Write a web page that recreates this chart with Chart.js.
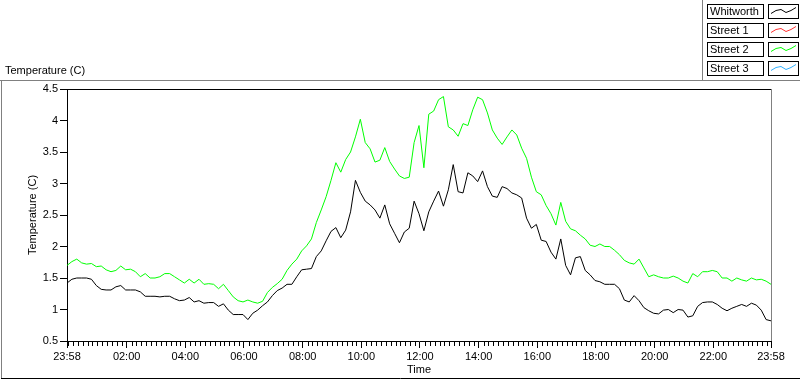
<!DOCTYPE html>
<html>
<head>
<meta charset="utf-8">
<script src="https://cdn.jsdelivr.net/npm/chart.js@4"></script>
<style>
    html, body { margin: 0; padding: 0; background: #fff; }
    #wrap { width: 800px; height: 380px; position: relative; }
</style>
</head>
<body>
<div id="wrap"><canvas id="tempChart" width="800" height="380"></canvas></div>
<script>
// Series names (legend order)
const seriesNames = ['Whitworth', 'Street 1', 'Street 2', 'Street 3'];
const seriesColors = ['#000000', '#ff3030', '#00ff00', '#30b0ff'];

// Readings every 10 minutes, starting 23:58
const stepMinutes = 10;
const whitworth = [
    1.42, 1.48, 1.50, 1.50, 1.50, 1.48, 1.38, 1.32, 1.31, 1.31,
    1.36, 1.38, 1.31, 1.31, 1.31, 1.28, 1.21, 1.21, 1.21, 1.20,
    1.21, 1.21, 1.17, 1.14, 1.15, 1.19, 1.12, 1.14, 1.10, 1.11,
    1.11, 1.05, 1.09, 0.99, 0.92, 0.92, 0.92, 0.84, 0.94, 0.99,
    1.06, 1.12, 1.22, 1.30, 1.34, 1.40, 1.40, 1.52, 1.63, 1.64,
    1.65, 1.84, 1.93, 2.09, 2.24, 2.30, 2.14, 2.26, 2.55, 3.05,
    2.86, 2.72, 2.66, 2.58, 2.45, 2.66, 2.36, 2.21, 2.06, 2.23,
    2.29, 2.72, 2.52, 2.25, 2.55, 2.72, 2.88, 2.64, 2.90, 3.30,
    2.87, 2.85, 3.17, 3.12, 3.03, 3.20, 2.95, 2.80, 2.78, 2.95,
    2.92, 2.85, 2.82, 2.77, 2.45, 2.29, 2.35, 2.10, 2.08, 1.91,
    1.80, 2.12, 1.70, 1.55, 1.82, 1.84, 1.62, 1.55, 1.46, 1.44,
    1.40, 1.40, 1.40, 1.33, 1.15, 1.12, 1.22, 1.14, 1.03, 0.98,
    0.94, 0.93, 0.99, 1.00, 0.95, 1.00, 0.99, 0.88, 0.90, 1.05,
    1.11, 1.12, 1.12, 1.08, 1.02, 0.98, 1.02, 1.05, 1.08, 1.05,
    1.10, 1.07, 0.99, 0.84, 0.82
];
const street1 = [];
const street2 = [
    1.70, 1.76, 1.80, 1.74, 1.72, 1.73, 1.68, 1.69, 1.63, 1.60,
    1.62, 1.69, 1.63, 1.64, 1.60, 1.52, 1.57, 1.50, 1.50, 1.52,
    1.57, 1.57, 1.52, 1.47, 1.42, 1.48, 1.42, 1.48, 1.40, 1.41,
    1.40, 1.33, 1.40, 1.30, 1.20, 1.14, 1.12, 1.15, 1.12, 1.10,
    1.13, 1.27, 1.35, 1.41, 1.48, 1.62, 1.72, 1.80, 1.93, 2.01,
    2.12, 2.38, 2.58, 2.79, 3.05, 3.33, 3.18, 3.38, 3.50, 3.74,
    4.02, 3.65, 3.55, 3.34, 3.37, 3.57, 3.35, 3.23, 3.12, 3.08,
    3.10, 3.65, 3.92, 3.25, 4.10, 4.15, 4.33, 4.38, 3.90, 3.85,
    3.75, 3.95, 3.92, 4.17, 4.37, 4.33, 4.12, 3.85, 3.72, 3.62,
    3.74, 3.85, 3.77, 3.56, 3.40, 3.10, 2.87, 2.82, 2.65, 2.52,
    2.34, 2.70, 2.40, 2.28, 2.25, 2.18, 2.12, 2.02, 2.00, 2.04,
    2.00, 2.00, 1.94, 1.87, 1.78, 1.74, 1.72, 1.80, 1.66, 1.52,
    1.55, 1.52, 1.50, 1.50, 1.53, 1.50, 1.45, 1.42, 1.57, 1.52,
    1.60, 1.60, 1.62, 1.60, 1.50, 1.50, 1.45, 1.50, 1.47, 1.45,
    1.50, 1.47, 1.48, 1.45, 1.40
];
const street3 = [];

// X axis: minutes since 23:58
const tickMinutes = [0, 122, 242, 362, 482, 602, 722, 842, 962, 1082, 1202, 1322, 1440];
const tickLabels = ['23:58', '02:00', '04:00', '06:00', '08:00', '10:00', '12:00',
                    '14:00', '16:00', '18:00', '20:00', '22:00', '23:58'];
const minorTickOffset = 2;

const FONT = 'Liberation Sans';

function toPoints(values) {
    return values.map((v, i) => ({ x: i * stepMinutes, y: v }));
}

// Frame, plot border, minor ticks and LabVIEW-style legend
const decorPlugin = {
    id: 'decor',
    afterDraw(chart) {
        const ctx = chart.ctx;
        const area = chart.chartArea;
        const xs = chart.scales.x;
        ctx.save();
        ctx.lineWidth = 1;

        // outer frame
        ctx.strokeStyle = '#808080';
        ctx.beginPath();
        ctx.moveTo(0, 80.5); ctx.lineTo(800, 80.5);
        ctx.moveTo(1.5, 80); ctx.lineTo(1.5, 378);
        ctx.moveTo(702.5, 0); ctx.lineTo(702.5, 80);
        ctx.stroke();
        ctx.strokeStyle = '#000';
        ctx.beginPath();
        ctx.moveTo(1, 378.5); ctx.lineTo(800, 378.5);
        ctx.stroke();

        // plot border
        ctx.strokeStyle = '#000';
        ctx.beginPath();
        ctx.moveTo(area.left, area.top + 0.5); ctx.lineTo(area.right, area.top + 0.5);
        ctx.stroke();
        ctx.strokeStyle = '#808080';
        ctx.beginPath();
        ctx.moveTo(area.right + 0.5, area.top); ctx.lineTo(area.right + 0.5, area.bottom);
        ctx.stroke();

        // minor ticks every 10 minutes
        ctx.strokeStyle = '#000';
        ctx.beginPath();
        for (let m = minorTickOffset; m < 1440; m += 10) {
            if (tickMinutes.includes(m)) continue;
            const px = Math.round(xs.getPixelForValue(m)) + 0.5;
            ctx.moveTo(px, area.bottom + 1);
            ctx.lineTo(px, area.bottom + 5);
        }
        ctx.stroke();

        // legend
        ctx.font = '11px "' + FONT + '"';
        ctx.textBaseline = 'middle';
        ctx.textAlign = 'left';
        seriesNames.forEach((name, i) => {
            const y = 4.5 + i * 19;
            ctx.strokeStyle = '#000';
            ctx.strokeRect(707.5, y, 56, 14);
            ctx.fillStyle = '#000';
            ctx.fillText(name, 710, y + 7.5);

            ctx.strokeRect(768.5, y, 30, 14);
            ctx.strokeStyle = seriesColors[i];
            ctx.beginPath();
            ctx.moveTo(771, y + 9);
            ctx.lineTo(776, y + 6);
            ctx.lineTo(781, y + 5);
            ctx.lineTo(786, y + 8);
            ctx.lineTo(791, y + 6);
            ctx.lineTo(796, y + 3);
            ctx.stroke();
        });

        // chart caption
        ctx.fillStyle = '#000';
        ctx.fillText('Temperature (C)', 5, 71);
        ctx.restore();
    }
};

function formatTime(m) {
    const idx = tickMinutes.indexOf(m);
    return idx >= 0 ? tickLabels[idx] : '';
}

document.addEventListener('DOMContentLoaded', function() {
    const ctx = document.getElementById('tempChart');
    const allSeries = [whitworth, street1, street2, street3];

    new Chart(ctx, {
        type: 'line',
        data: {
            datasets: seriesNames.map((name, i) => ({
                label: name,
                data: toPoints(allSeries[i]),
                borderColor: seriesColors[i],
                backgroundColor: seriesColors[i],
                borderWidth: 1,
                pointRadius: 0,
                tension: 0,
                fill: false
            }))
        },
        options: {
            responsive: false,
            animation: false,
            layout: { padding: { top: 89, right: 29, left: 0, bottom: 0 } },
            plugins: {
                legend: { display: false },
                tooltip: { enabled: false }
            },
            scales: {
                x: {
                    type: 'linear',
                    min: 0,
                    max: 1440,
                    afterBuildTicks: scale => {
                        scale.ticks = tickMinutes.map(v => ({ value: v }));
                    },
                    afterFit: scale => { scale.height = 39; },
                    border: { display: true, color: '#000', width: 1 },
                    grid: { drawOnChartArea: false, drawTicks: true, tickLength: 7, color: '#000' },
                    ticks: {
                        autoSkip: false,
                        maxRotation: 0,
                        padding: 2,
                        color: '#000',
                        font: { family: FONT, size: 11 },
                        callback: v => formatTime(v)
                    },
                    title: {
                        display: true,
                        text: 'Time',
                        color: '#000',
                        font: { family: FONT, size: 11 },
                        padding: { top: 0, bottom: 3 }
                    }
                },
                y: {
                    min: 0.5,
                    max: 4.5,
                    afterFit: scale => { scale.width = 67; },
                    border: { display: true, color: '#000', width: 1 },
                    grid: { drawOnChartArea: false, drawTicks: true, tickLength: 7, color: '#000' },
                    ticks: {
                        stepSize: 0.5,
                        padding: 2,
                        color: '#000',
                        font: { family: FONT, size: 11 },
                        callback: v => String(v)
                    },
                    title: {
                        display: true,
                        text: 'Temperature (C)',
                        color: '#000',
                        font: { family: FONT, size: 11 },
                        padding: { top: 26, bottom: 0 }
                    }
                }
            }
        },
        plugins: [decorPlugin]
    });
});
</script>
</body>
</html>
